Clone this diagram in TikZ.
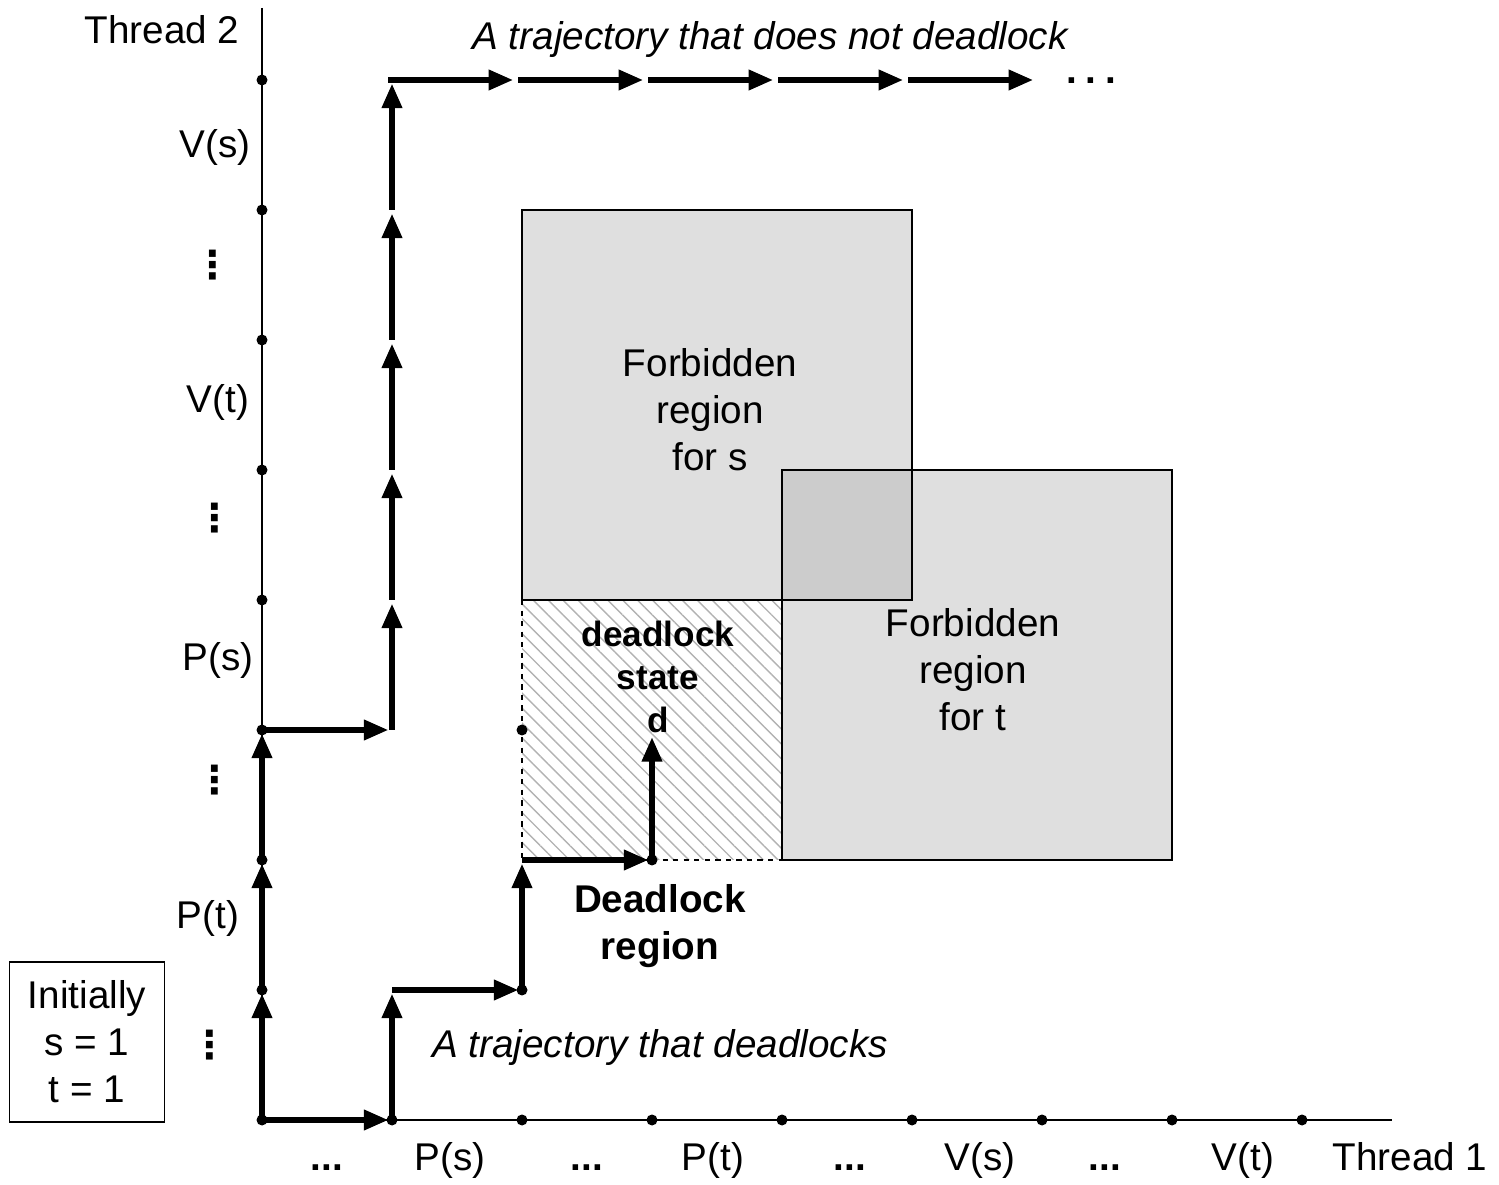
\documentclass[tikz,border=0pt]{standalone}
\usepackage{fontspec}
\setmainfont{Liberation Sans}
\newfontfamily\dotsfont{DejaVu Sans}
\usetikzlibrary{arrows.meta,patterns.meta,positioning}

\begin{document}
\begin{tikzpicture}[
    x=0.02cm, y=-0.02cm,
    font=\fontsize{22}{26.7}\selectfont,
    axis/.style={draw=black, line width=0.8pt},
    trajarrow/.style={-{Triangle[length=14pt,width=11pt]}, line width=3.3pt, shorten >=2pt},
    gridpt/.style={circle, fill=black, inner sep=0pt, minimum size=0.22cm},
    vdotslbl/.style={font=\fontsize{22}{26}\dotsfont\bfseries},
    forbid/.style={fill=gray!25},
    regionlbl/.style={align=center},
    ticklbl/.style={anchor=base}
]
    \useasboundingbox (0,0) rectangle (1499,1185);

    % progress grid
    \foreach \i in {0,...,8}
        \foreach \j in {0,...,8}
            \coordinate (g\i\j) at ({262+130*\i},{1120-130*\j});
    \coordinate (ytop) at (262,8);
    \coordinate (xend) at (1392,1120);

    % forbidden regions
    \fill[forbid] (g27) rectangle (g54);
    \fill[forbid] (g45) rectangle (g72);
    \fill[gray!40] (g45) rectangle (g54);
    \fill[pattern={Lines[angle=-45,distance=6pt,line width=0.8pt]}, pattern color=gray!60] (g24) rectangle (g42);
    \draw[dashed, line width=0.6pt] (g24) rectangle (g42);
    \draw[line width=0.8pt] (g27) rectangle (g54);
    \draw[line width=0.8pt] (g45) rectangle (g72);

    \node[regionlbl] (fs) at (710,410) {Forbidden\\region\\for s};
    \node[regionlbl] (ft) at (973,670) {Forbidden\\region\\for t};
    \node[regionlbl, font=\fontsize{20}{24.4}\selectfont\bfseries] (ds) at (658,677) {deadlock\\state\\d};
    \node[regionlbl, font=\fontsize{22}{26.7}\selectfont\bfseries] (dr) at (660,926) {Deadlock\\region};

    % axes
    \draw[axis] (ytop) -- (g00) -- (xend);
    \node (t2) at (162,30) {Thread 2};
    \node[ticklbl] (t1) at (1410,1170) {Thread 1};

    \node (vs2) at (215,148) {V(s)};
    \node[vdotslbl] (d1) at (213,265) {⋮};
    \node (vt2) at (218,403) {V(t)};
    \node[vdotslbl] (d2) at (215,518) {⋮};
    \node (ps2) at (218,660) {P(s)};
    \node[vdotslbl] (d3) at (215,780) {⋮};
    \node (pt2) at (208,918) {P(t)};
    \node[vdotslbl] (d4) at (210,1045) {⋮};

    \node[ticklbl] (e1) at (327,1170) {\textbf{...}};
    \node[ticklbl] (ps1) at (450,1170) {P(s)};
    \node[ticklbl] (e2) at (587,1170) {\textbf{...}};
    \node[ticklbl] (pt1) at (713,1170) {P(t)};
    \node[ticklbl] (e3) at (850,1170) {\textbf{...}};
    \node[ticklbl] (vs1) at (980,1170) {V(s)};
    \node[ticklbl] (e4) at (1105,1170) {\textbf{...}};
    \node[ticklbl] (vt1) at (1243,1170) {V(t)};

    \node[draw, line width=0.8pt, minimum width=3.1cm, minimum height=3.2cm, align=center] (init) at (87,1042) {Initially\\s = 1\\t = 1};

    % trajectory that does not deadlock
    \foreach \j [evaluate=\j as \k using int(\j+1)] in {0,1,2}
        \draw[trajarrow] (g0\j) -- (g0\k);
    \draw[trajarrow] (g03) -- (g13);
    \foreach \j [evaluate=\j as \k using int(\j+1)] in {3,...,7}
        \draw[trajarrow] (g1\j) -- (g1\k);
    \foreach \i [evaluate=\i as \k using int(\i+1)] in {1,...,5}
        \draw[trajarrow, shorten >=5pt, shorten <=-2pt] (g\i8) -- (g\k8);
    \node[ticklbl] (more) at (1091,84) {\textbf{.\hspace{5pt}.\hspace{5pt}.}};
    \node[font=\fontsize{22}{26.7}\selectfont\itshape] (tnd) at (770,40) {A trajectory that does not deadlock};

    % trajectory that deadlocks
    \draw[trajarrow] (g00) -- (g10);
    \draw[trajarrow] (g10) -- (g11);
    \draw[trajarrow] (g11) -- (g21);
    \draw[trajarrow] (g21) -- (g22);
    \draw[trajarrow] (g22) -- (g32);
    \draw[trajarrow, shorten >=4pt] (g32) -- (g33);
    \node[font=\fontsize{22}{26.7}\selectfont\itshape] (td) at (660,1048) {A trajectory that deadlocks};

    % grid points
    \foreach \i in {0,...,8}
        \node[gridpt] at (g\i0) {};
    \foreach \j in {1,...,8}
        \node[gridpt] at (g0\j) {};
    \node[gridpt] at (g21) {};
    \node[gridpt] at (g32) {};
    \node[gridpt] at (g23) {};
\end{tikzpicture}
\end{document}
